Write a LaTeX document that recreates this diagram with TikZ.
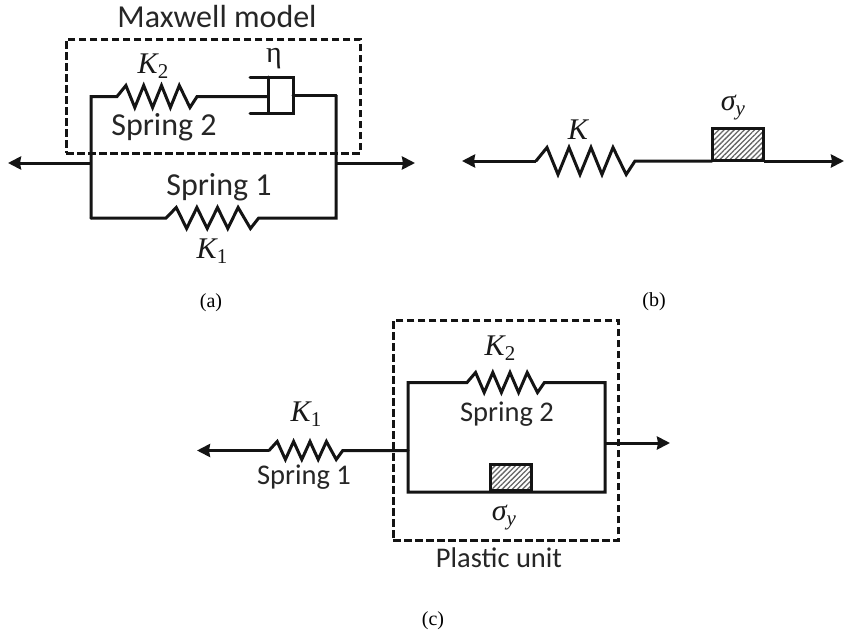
\documentclass[tikz,border=0pt]{standalone}
\usepackage{fontspec}
\setmainfont{Carlito}
\newfontfamily\capfont{Liberation Serif}
\usetikzlibrary{arrows.meta,patterns.meta}
\newcommand{\zigpath}[2]{-- ++(#1,-#2) -- ++(#1,2*#2) -- ++(#1,-2*#2) -- ++(#1,2*#2) -- ++(#1,-2*#2) -- ++(#1,2*#2) -- ++(#1,-2*#2) -- ++(1.2*#1,2*#2) -- ++(0.8*#1,-#2)}
\newcommand{\mathlab}[2]{{\capfont\fontsize{30}{30}\selectfont\itshape #1\raisebox{-5pt}{\fontsize{21}{21}\selectfont #2}}}
\tikzset{
  x=1pt,y=-1pt,
  wire/.style={line width=3pt,line join=miter,line cap=round,draw=black!92},
  dashbox/.style={line width=2.7pt,draw=black!92,dash pattern=on 7.5pt off 3.5pt},
  arrowline/.style={wire,line cap=butt,-{Stealth[length=13pt,width=13pt,inset=1pt]}},
  lab/.style={inner sep=0pt,font=\fontsize{28.5}{29}\selectfont,text=black!85},
  lablarge/.style={inner sep=0pt,font=\fontsize{32}{32}\selectfont,text=black!85},
  sym/.style={inner sep=0pt,text=black!90},
  captext/.style={inner sep=0pt,font=\capfont\fontsize{20}{20}\selectfont},
  friction/.style={draw=black!92,line width=2.8pt,inner sep=0pt,
    pattern={Lines[angle=45,distance=3.6pt,line width=1.3pt]},pattern color=black!60},
}
\begin{document}
\begin{tikzpicture}
\useasboundingbox[fill=white] (0,0) rectangle (844,635);

% ---------- (a)
\node[dashbox,draw,minimum width=294pt,minimum height=114pt,inner sep=0pt,anchor=north west] (abox) at (65,38) {};
\coordinate (aL) at (91,163);
\coordinate (aR) at (336,163);
\coordinate (aTL) at (91,96.5);
\coordinate (aBL) at (91,218);
\coordinate (aTR) at (336,95.5);
\coordinate (aBR) at (336,218);
\coordinate (as2) at (117,96.5);
\coordinate (as1) at (166,218);
\coordinate (aleft) at (8,163);
\coordinate (aright) at (415,163);
\coordinate (adash) at (268,96.5);
\coordinate (adashR) at (293,95.5);
\coordinate (adT) at (250,77);
\coordinate (adB) at (250,113);
\coordinate (adT2) at (293,77);
\coordinate (adB2) at (293,113);
\coordinate (adT1) at (268,77);
\coordinate (adB1) at (268,113);
\draw[wire] (aTR) -- (adashR);
\draw[wire] (aBL) -- (aTL) -- (as2) \zigpath{8.9}{11} -- (adash);
\draw[wire] (adT) -- (adT2) -- (adB2) -- (adB);
\draw[wire] (adT1) -- (adB1);
\draw[wire] (aBL) -- (as1) \zigpath{10.3}{10.5} -- (aBR) -- (aTR);
\draw[arrowline] (aL) -- (aleft);
\draw[arrowline] (aR) -- (aright);
\node[lablarge] (tMax) at (217,17) {Maxwell model};
\node[sym] (ta2) at (153,66) {\mathlab{K}{\upshape 2}};
\node[sym,font=\capfont\fontsize{30}{30}\selectfont] (teta) at (274,59) {η};
\node[lablarge] (ts2a) at (164,127) {Spring 2};
\node[lablarge] (ts1a) at (219,187) {Spring 1};
\node[sym] (ta1) at (212,251) {\mathlab{K}{\upshape 1}};
\node[captext] (capa) at (211,303) {(a)};

% ---------- (b)
\coordinate (bleft) at (462,161);
\coordinate (bs) at (536,161);
\coordinate (bright) at (844,161);
\node[friction,minimum width=51pt,minimum height=32pt,anchor=south west] (bblock) at (712,161) {};
\draw[arrowline] (bs) -- (bleft);
\draw[wire] (bs) \zigpath{11}{13.5} -- (bblock.south west);
\draw[arrowline] (bblock.south east) -- (bright);
\node[sym] (tk) at (578,132) {\mathlab{K}{}};
\node[sym] (tsb) at (733,108) {\mathlab{σ}{y}};
\node[captext] (capb) at (654,302) {(b)};

% ---------- (c)
\node[dashbox,draw,minimum width=225pt,minimum height=220pt,inner sep=0pt,anchor=north west] (cbox) at (392,319) {};
\coordinate (cleft) at (197,450.5);
\coordinate (cs1) at (269,450.5);
\coordinate (cJ) at (408,450.5);
\coordinate (cTL) at (408,382.5);
\coordinate (cBL) at (408,492);
\coordinate (cTR) at (605,382.5);
\coordinate (cBR) at (605,492);
\coordinate (cs2) at (467,382.5);
\coordinate (cR) at (605,443);
\coordinate (cright) at (670,443);
\node[friction,minimum width=41pt,minimum height=26pt,anchor=south west] (cblock) at (489,492) {};
\draw[arrowline] (cs1) -- (cleft);
\draw[wire] (cs1) \zigpath{8.2}{9} -- (cJ);
\draw[wire] (cBL) -- (cTL) -- (cs2) \zigpath{8.6}{10} -- (cTR) -- (cBR) -- cycle;
\draw[arrowline] (cR) -- (cright);
\node[sym] (tc2) at (500,348) {\mathlab{K}{\upshape 2}};
\node[lab] (ts2c) at (507,414) {Spring 2};
\node[sym] (tc1) at (306,414) {\mathlab{K}{\upshape 1}};
\node[lab] (ts1c) at (304,477) {Spring 1};
\node[sym] (tsc) at (504,518) {\mathlab{σ}{y}};
\node[lab] (tpl) at (499,558) {Plastic unit};
\node[captext] (capc) at (433,621) {(c)};
\end{tikzpicture}
\end{document}
